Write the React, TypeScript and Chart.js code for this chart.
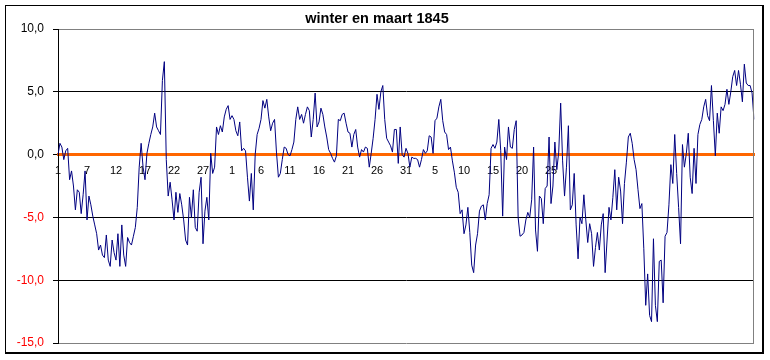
import { useEffect, useRef } from "react";
import { Chart, registerables } from "chart.js";

Chart.register(...registerables);

// Three readings per day, 2 Dec 1844 (approx.) through end of March 1845
const chartTitle = "winter en maart 1845";
const dayLabels = ["1", "7", "12", "17", "22", "27", "1", "6", "11", "16", "21", "26", "31", "5", "10", "15", "20", "25"];
const readingsPerLabel = 15;

const decemberA = [
  0.0, 0.9, 0.6, -0.4, 0.3, 0.5, -2.0, -1.3, -2.5, -4.4,
  -2.8, -3.0, -4.7, -3.2, -1.3, -5.2, -3.3, -4.0, -4.9, -5.6,
  -6.3, -7.6, -7.2, -8.0, -8.2, -6.4, -8.4, -8.9, -6.8, -7.8,
  -8.4, -6.3, -8.9, -5.6, -8.0, -8.9, -6.6, -7.0, -7.2, -6.5,
  -5.8, -4.2, -1.0, 0.9, -1.0, -2.0, 0.1, 0.9, 1.6, 2.2,
  3.3, 2.2, 1.9, 1.6, 5.9, 7.4, -0.4, -3.3, -2.2, -3.6,
];
const decemberB = [
  -5.2, -3.0, -4.6, -3.1, -4.0, -5.2, -6.8, -7.2, -3.4, -5.0,
  -2.8, -5.8, -6.1, -3.0, -1.8, -7.1, -4.5, -3.4, -5.2, 0.1,
  -1.5, -1.0, 2.2, 1.6, 2.3, 1.8, 3.0, 3.6, 3.9, 2.8,
  3.1, 2.8, 1.9, 1.5, 2.6, 0.3, 0.5, 0.3, -1.8, -3.7,
  -1.5, -4.4, 0.0, 1.6, 2.1, 2.8, 4.3, 3.7, 4.4, 3.0,
  1.9, 2.5, 2.8, 0.2, -1.8, -1.5, -0.4, 0.6, 0.5, 0.0,
];
const january = [
  -0.1, 0.4, 1.0, 2.8, 3.8, 2.8, 3.2, 2.5, 3.2, 3.8,
  3.5, 1.4, 2.8, 4.9, 2.2, 2.6, 3.7, 3.2, 2.2, 1.4,
  0.4, 0.1, -0.3, -0.6, -0.1, 2.8, 2.7, 3.2, 3.3, 2.5,
  1.8, 1.7, 0.6, 1.6, 2.0, 0.6, -0.2, 0.4, 0.2, 0.6,
  0.5, -1.0, 0.1, 1.3, 2.8, 4.8, 3.6, 5.0, 5.5, 2.8,
  1.3, 1.0, 0.7, 0.2, 2.0, 2.0, -0.7, 2.2, 0.0, -0.2,
];
const february = [
  0.5, 0.1, -1.0, -0.2, -0.3, -0.3, -0.4, -1.0, -0.4, 0.4,
  0.1, 0.3, 1.5, 1.4, 0.1, 2.7, 2.9, 3.8, 4.4, 2.7,
  1.8, 1.6, 0.4, 0.6, -0.5, -1.4, -2.6, -3.0, -4.7, -4.4,
  -6.3, -5.6, -4.2, -6.2, -8.8, -9.4, -7.2, -6.3, -4.5, -4.1,
  -4.0, -5.2, -3.9, -3.2, 0.5, 0.8, 0.5, 1.0, 2.8, 0.3,
  -4.9, 0.6, -0.4, 2.2, 0.6, 0.5, 2.0, 2.7, -5.0, -6.5,
];
const marchA = [
  -6.4, -6.2, -5.2, -4.6, -5.0, -3.6, 0.6, -6.0, -7.7, -3.3,
  -3.5, -5.5, -2.7, -2.5, 1.4, -3.9, -2.5, 1.0, -1.2, 0.2,
  4.1, -0.5, -3.3, -1.0, 2.3, -4.4, -4.0, -1.5, -5.6, -8.3,
  -5.0, -5.5, -3.2, -5.2, -7.0, -5.5, -6.3, -8.9, -7.4, -6.2,
  -7.6, -5.6, -4.7, -9.4, -6.8, -4.2, -5.2, -3.4, -1.2, -4.4,
  -1.8, -2.9, -5.5, -2.3, -0.6, 1.4, 1.7, 0.9, -0.4, -1.2,
];
const marchB = [
  -2.8, -4.3, -3.9, -7.5, -12.0, -9.5, -12.8, -13.3, -6.7, -12.0,
  -13.3, -8.5, -8.4, -11.8, -6.5, -6.2, -4.0, -0.8, -2.3, 1.6,
  -1.5, -4.2, -7.1, 0.8, -1.0, 0.1, 1.7, -1.8, -3.1, 0.5,
  -2.3, 1.6, 2.4, 2.8, 3.8, 4.4, 3.1, 2.7, 5.5, 2.7,
  -0.1, 3.3, 1.7, 3.8, 3.5, 4.0, 5.2, 4.0, 5.0, 6.2,
  6.7, 5.5, 6.7, 5.6, 4.2, 7.2, 5.7, 5.5, 5.5, 4.9,
  2.8,
];

const yMin = -15;
const yMax = 10;
const yStep = 5;

const temperatures = [...decemberA, ...decemberB, ...january, ...february, ...marchA, ...marchB];
const categories = temperatures.map((_, i) =>
  i % readingsPerLabel === 0 && i / readingsPerLabel < dayLabels.length ? dayLabels[i / readingsPerLabel] : ""
);

const FONT = "Arial, 'Liberation Sans', sans-serif";

const framePlugin = {
  id: "excelFrame",
  afterDraw(chart: any) {
    const { ctx, chartArea } = chart;
    ctx.save();
    // plot area right border (grey)
    ctx.strokeStyle = "#808080";
    ctx.lineWidth = 1;
    ctx.beginPath();
    ctx.moveTo(chartArea.right - 0.5, chartArea.top);
    ctx.lineTo(chartArea.right - 0.5, chartArea.bottom);
    ctx.stroke();
    // outer chart frame
    ctx.fillStyle = "#000000";
    ctx.fillRect(5, 5, 758, 1);
    ctx.fillRect(5, 5, 1, 349);
    ctx.fillRect(762, 5, 2, 349);
    ctx.fillRect(5, 352, 759, 2);
    ctx.restore();
  },
};

export default function App() {
  const canvasRef = useRef<HTMLCanvasElement | null>(null);

  useEffect(() => {
    if (!canvasRef.current) return;
    const chart = new Chart(canvasRef.current, {
      type: "line",
      data: {
        labels: categories,
        datasets: [
          {
            data: temperatures,
            borderColor: "#000080",
            borderWidth: 1,
            pointRadius: 0,
            tension: 0,
            fill: false,
          },
        ],
      },
      options: {
        responsive: false,
        animation: false,
        devicePixelRatio: 1,
        layout: { padding: { left: 0, right: 16, top: 0, bottom: 17 } },
        plugins: {
          legend: { display: false },
          tooltip: { enabled: false },
          title: {
            display: true,
            text: chartTitle,
            color: "#000000",
            font: { family: FONT, size: 14.5, weight: "bold", lineHeight: 1.2 },
            padding: { top: 9.8, bottom: 1.8 },
          },
        },
        scales: {
          x: {
            type: "category",
            position: { y: 0 } as any,
            offset: false,
            grid: { display: false, drawTicks: false },
            border: { display: true, color: "#FF6600", width: 3 },
            ticks: {
              autoSkip: false,
              maxRotation: 0,
              minRotation: 0,
              padding: 10,
              color: "#000000",
              font: { family: FONT, size: 11 },
            },
            afterFit: (scale: any) => {
              scale.height = 0;
            },
          },
          y: {
            type: "linear",
            position: "left",
            min: yMin,
            max: yMax,
            ticks: {
              stepSize: yStep,
              padding: 9,
              color: (ctx: any) => (ctx.tick && ctx.tick.value < 0 ? "#FF0000" : "#000000"),
              font: { family: FONT, size: 12 },
              callback: (v: any) => Number(v).toFixed(1).replace(".", ","),
            },
            grid: {
              color: (ctx: any) => {
                const v = ctx.tick ? ctx.tick.value : null;
                if (v === 0) return "rgba(0,0,0,0)";
                if (v === yMax || v === yMin) return "#808080";
                return "#000000";
              },
              tickColor: "#000000",
              tickLength: 5,
              lineWidth: 1,
            },
            border: { display: true, color: "#000000", width: 1 },
            afterFit: (scale: any) => {
              scale.width = 58;
            },
          },
        },
      },
      plugins: [framePlugin],
    });
    return () => chart.destroy();
  }, []);

  return (
    <div style={{ position: "fixed", left: 0, top: 0, width: 770, height: 360, background: "#ffffff" }}>
      <canvas ref={canvasRef} width={770} height={360} style={{ display: "block" }} />
    </div>
  );
}
